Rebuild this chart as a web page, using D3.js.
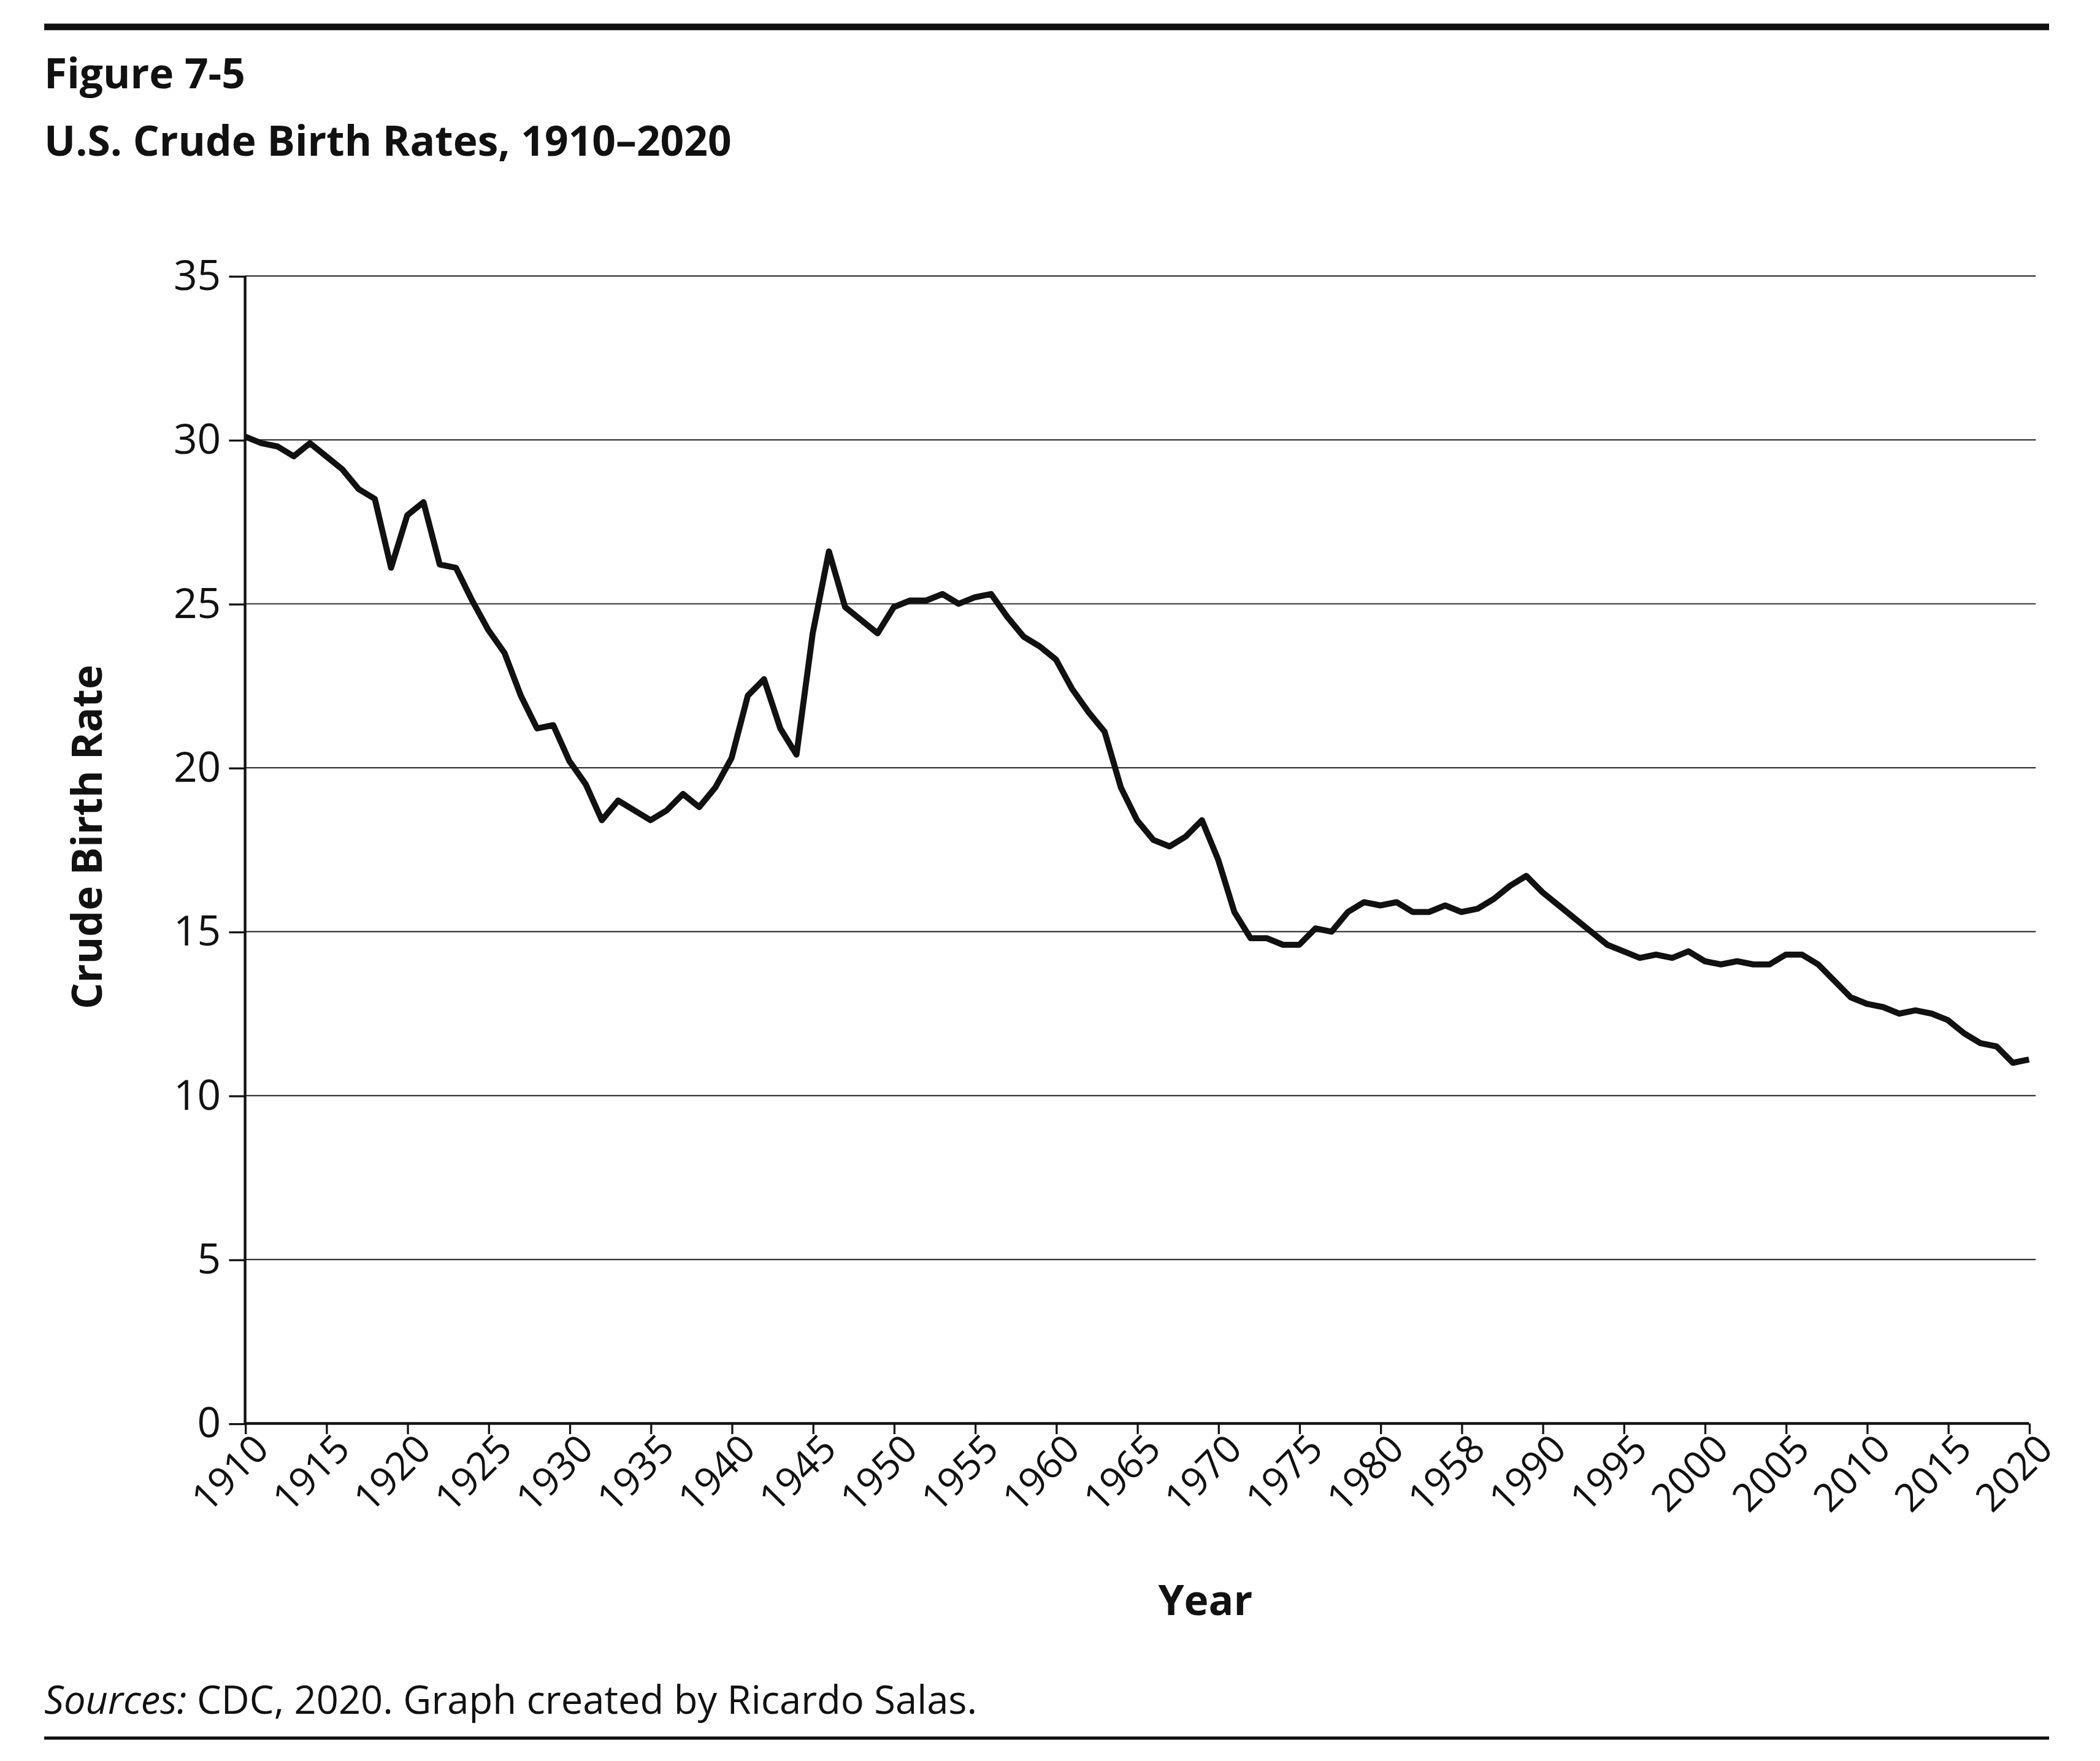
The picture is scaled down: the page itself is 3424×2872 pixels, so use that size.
<!DOCTYPE html>
<html><head><meta charset="utf-8">
<script src="https://cdn.jsdelivr.net/npm/d3@7"></script>
<style>body{margin:0;background:#fff}</style></head>
<body><svg id="c" width="3424" height="2872" viewBox="0 0 1568 1315"></svg>
<script>
const years = d3.range(1910, 2021);
const rates = [30.1,29.9,29.8,29.5,29.9,29.5,29.1,28.5,28.2,26.1,27.7,28.1,26.2,26.1,25.1,24.2,23.5,22.2,21.2,
21.3,20.2,19.5,18.4,19.0,18.7,18.4,18.7,19.2,18.8,19.4,20.3,22.2,22.7,21.2,20.4,24.1,26.6,24.9,24.5,
24.1,24.9,25.1,25.1,25.3,25.0,25.2,25.3,24.6,24.0,23.7,23.3,22.4,21.7,21.1,19.4,18.4,17.8,17.6,17.9,
18.4,17.2,15.6,14.8,14.8,14.6,14.6,15.1,15.0,15.6,15.9,15.8,15.9,15.6,15.6,15.8,15.6,15.7,16.0,16.4,
16.7,16.2,15.8,15.4,15.0,14.6,14.4,14.2,14.3,14.2,14.4,14.1,14.0,14.1,14.0,14.0,14.3,14.3,14.0,13.5,
13.0,12.8,12.7,12.5,12.6,12.5,12.3,11.9,11.6,11.5,11.0,11.1,11.0];
const xTicks = d3.range(1910, 2021, 5);
const xTickLabels = ["1910","1915","1920","1925","1930","1935","1940","1945","1950","1955","1960","1965","1970","1975","1980","1958","1990","1995","2000","2005","2010","2015","2020"];
const yTicks = [0,5,10,15,20,25,30,35];

const svg = d3.select("#c");
const F = "'Open Sans', 'Noto Sans', sans-serif";
const x = d3.scaleLinear().domain([1910,2020]).range([183,1515]);
const y = d3.scaleLinear().domain([0,35]).range([1063,206]);

svg.append("line").attr("x1",33).attr("x2",1530).attr("y1",20).attr("y2",20).attr("stroke","#111").attr("stroke-width",5);
svg.append("line").attr("x1",33).attr("x2",1530).attr("y1",1298).attr("y2",1298).attr("stroke","#111").attr("stroke-width",2.5);
svg.append("text").attr("x",33).attr("y",66).attr("font-family",F).attr("font-weight","bold").attr("font-size",31).attr("fill","#111").text("Figure 7-5");
svg.append("text").attr("x",33).attr("y",116).attr("font-family",F).attr("font-weight","bold").attr("font-size",31).attr("fill","#111").text("U.S. Crude Birth Rates, 1910–2020");

svg.append("g").selectAll("line").data(yTicks.filter(d=>d>0)).join("line")
 .attr("x1",183).attr("x2",1520).attr("y1",d=>y(d)).attr("y2",d=>y(d)).attr("stroke","#333").attr("stroke-width",1);

const ya = svg.append("g").attr("transform","translate(183,0)").call(d3.axisLeft(y).tickValues(yTicks).tickSize(12).tickPadding(6));
ya.select(".domain").attr("stroke","#111").attr("stroke-width",2).attr("d","M0,206V1063");
ya.selectAll("text").attr("font-family",F).attr("font-size",31).attr("fill","#111");
ya.selectAll(".tick line").attr("stroke","#111").attr("stroke-width",1.5);

const xa = svg.append("g").attr("transform","translate(0,1063)").call(d3.axisBottom(x).tickValues(xTicks).tickSize(8).tickFormat((d,i)=>xTickLabels[i]));
xa.select(".domain").attr("stroke","#111").attr("stroke-width",2).attr("d","M183,0H1515");
xa.selectAll(".tick line").attr("stroke","#111").attr("stroke-width",1.5);
xa.selectAll("text").attr("font-family",F).attr("font-size",29).attr("fill","#111")
 .attr("text-anchor","end").attr("dy",0).attr("transform","translate(11,13) rotate(-45)");

svg.append("path").datum(years.map((yr,i)=>[yr,rates[i]]))
 .attr("d",d3.line().x(d=>x(d[0])).y(d=>y(d[1])))
 .attr("fill","none").attr("stroke","#111").attr("stroke-width",4.5).attr("stroke-linejoin","round");

svg.append("text").attr("x",900).attr("y",1206).attr("text-anchor","middle").attr("font-family",F).attr("font-weight","bold").attr("font-size",31).attr("fill","#111").text("Year");
svg.append("text").attr("transform","translate(76,625) rotate(-90)").attr("text-anchor","middle").attr("font-family",F).attr("font-weight","bold").attr("font-size",31).attr("fill","#111").text("Crude Birth Rate");
const s = svg.append("text").attr("x",33).attr("y",1280).attr("font-family",F).attr("font-size",29).attr("fill","#111");
s.append("tspan").attr("font-style","italic").text("Sources:");
s.append("tspan").text(" CDC, 2020. Graph created by Ricardo Salas.");
</script></body></html>
